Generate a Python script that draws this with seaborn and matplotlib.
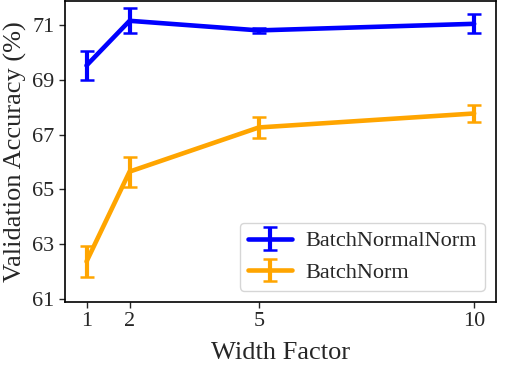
import matplotlib
matplotlib.use("Agg")
import matplotlib.pyplot as plt
import seaborn as sns

# Data
width_factors = [1, 2, 5, 10]
bnn_mean = [69.52, 71.15, 70.80, 71.04]
bnn_err = [0.52, 0.45, 0.10, 0.35]
bn_mean = [62.37, 65.65, 67.26, 67.77]
bn_err = [0.55, 0.55, 0.37, 0.30]

series_names = ["BatchNormalNorm", "BatchNorm"]
series_colors = ["blue", "orange"]

sns.set_theme(style="ticks")
plt.rcParams['font.family'] = ['Liberation Serif', 'DejaVu Serif']
plt.rcParams['mathtext.fontset'] = 'stix'

fig, ax = plt.subplots(figsize=(5.24, 3.92), dpi=100)
fig.subplots_adjust(left=0.124, right=0.946, bottom=0.23, top=0.998)

for mean, err, name, color in zip([bnn_mean, bn_mean], [bnn_err, bn_err],
                                  series_names, series_colors):
    ax.errorbar(width_factors, mean, yerr=err, color=color, lw=3.3,
                elinewidth=3, capsize=4.7, capthick=1.8, label=name)

ax.set_xlim(0.5, 10.5)
ax.set_ylim(60.9, 71.88)
ax.set_xticks(width_factors)
ax.set_yticks([61, 63, 65, 67, 69, 71])
ax.tick_params(axis='both', labelsize=16, length=4, width=1)

for side in ['top', 'right', 'left', 'bottom']:
    ax.spines[side].set_visible(True)
    ax.spines[side].set_color('black')
    ax.spines[side].set_linewidth(1.2)

ax.set_xlabel("Width Factor", fontsize=19, labelpad=8)
ax.set_ylabel("Validation Accuracy (%)", fontsize=19)

ax.legend(loc='lower right', fontsize=16, frameon=True, handlelength=2,
          borderaxespad=0.5, borderpad=0.35, handletextpad=0.6)

plt.savefig("out.png", dpi=100)
plt.close()
